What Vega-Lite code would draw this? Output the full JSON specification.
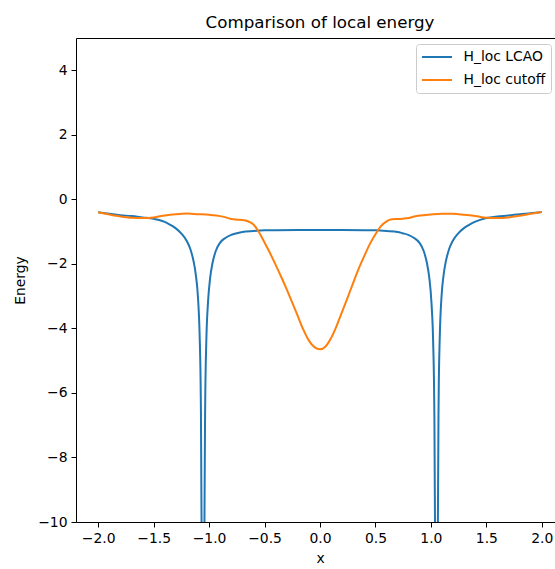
{
  "$schema": "https://vega.github.io/schema/vega-lite/v6.json",
  "autosize": {"type": "none"},
  "padding": {"left": 76, "top": 38, "right": 0, "bottom": 47},
  "width": 488,
  "height": 484,
  "background": "white",
  "title": {
    "text": "Comparison of local energy",
    "font": "DejaVu Sans",
    "fontSize": 16.7,
    "fontWeight": "normal",
    "color": "black",
    "anchor": "middle",
    "offset": 6
  },
  "config": {
    "view": {"stroke": "black", "strokeWidth": 1},
    "axis": {
      "grid": false,
      "domain": false,
      "tickColor": "black",
      "tickSize": 5,
      "tickWidth": 1,
      "labelFont": "DejaVu Sans",
      "labelFontSize": 13.9,
      "labelColor": "black",
      "labelPadding": 4,
      "titleFont": "DejaVu Sans",
      "titleFontSize": 13.9,
      "titleFontWeight": "normal",
      "titleColor": "black"
    }
  },
  "data": {
    "values": [
      {"series": "H_loc LCAO", "x": -2.0, "E": -0.40},
      {"series": "H_loc LCAO", "x": -1.9, "E": -0.45},
      {"series": "H_loc LCAO", "x": -1.8, "E": -0.49},
      {"series": "H_loc LCAO", "x": -1.7, "E": -0.52},
      {"series": "H_loc LCAO", "x": -1.6, "E": -0.56},
      {"series": "H_loc LCAO", "x": -1.5, "E": -0.60},
      {"series": "H_loc LCAO", "x": -1.45, "E": -0.64},
      {"series": "H_loc LCAO", "x": -1.4, "E": -0.70},
      {"series": "H_loc LCAO", "x": -1.35, "E": -0.79},
      {"series": "H_loc LCAO", "x": -1.3, "E": -0.90},
      {"series": "H_loc LCAO", "x": -1.25, "E": -1.06},
      {"series": "H_loc LCAO", "x": -1.2, "E": -1.30},
      {"series": "H_loc LCAO", "x": -1.17, "E": -1.53},
      {"series": "H_loc LCAO", "x": -1.14, "E": -1.92},
      {"series": "H_loc LCAO", "x": -1.12, "E": -2.33},
      {"series": "H_loc LCAO", "x": -1.1, "E": -3.05},
      {"series": "H_loc LCAO", "x": -1.085, "E": -4.25},
      {"series": "H_loc LCAO", "x": -1.075, "E": -6.1},
      {"series": "H_loc LCAO", "x": -1.065, "E": -11.8},
      {"series": "H_loc LCAO", "x": -1.055, "E": -40},
      {"series": "H_loc LCAO", "x": -1.045, "E": -11.9},
      {"series": "H_loc LCAO", "x": -1.035, "E": -6.3},
      {"series": "H_loc LCAO", "x": -1.025, "E": -4.4},
      {"series": "H_loc LCAO", "x": -1.01, "E": -3.2},
      {"series": "H_loc LCAO", "x": -0.99, "E": -2.42},
      {"series": "H_loc LCAO", "x": -0.97, "E": -1.99},
      {"series": "H_loc LCAO", "x": -0.94, "E": -1.6},
      {"series": "H_loc LCAO", "x": -0.9, "E": -1.34},
      {"series": "H_loc LCAO", "x": -0.85, "E": -1.19},
      {"series": "H_loc LCAO", "x": -0.8, "E": -1.10},
      {"series": "H_loc LCAO", "x": -0.75, "E": -1.05},
      {"series": "H_loc LCAO", "x": -0.7, "E": -1.01},
      {"series": "H_loc LCAO", "x": -0.6, "E": -0.98},
      {"series": "H_loc LCAO", "x": -0.5, "E": -0.96},
      {"series": "H_loc LCAO", "x": -0.4, "E": -0.955},
      {"series": "H_loc LCAO", "x": -0.2, "E": -0.95},
      {"series": "H_loc LCAO", "x": 0.0, "E": -0.95},
      {"series": "H_loc LCAO", "x": 0.2, "E": -0.95},
      {"series": "H_loc LCAO", "x": 0.4, "E": -0.955},
      {"series": "H_loc LCAO", "x": 0.5, "E": -0.96},
      {"series": "H_loc LCAO", "x": 0.6, "E": -0.98},
      {"series": "H_loc LCAO", "x": 0.7, "E": -1.01},
      {"series": "H_loc LCAO", "x": 0.745, "E": -1.05},
      {"series": "H_loc LCAO", "x": 0.795, "E": -1.10},
      {"series": "H_loc LCAO", "x": 0.845, "E": -1.19},
      {"series": "H_loc LCAO", "x": 0.895, "E": -1.34},
      {"series": "H_loc LCAO", "x": 0.935, "E": -1.6},
      {"series": "H_loc LCAO", "x": 0.965, "E": -1.99},
      {"series": "H_loc LCAO", "x": 0.985, "E": -2.42},
      {"series": "H_loc LCAO", "x": 1.005, "E": -3.2},
      {"series": "H_loc LCAO", "x": 1.02, "E": -4.4},
      {"series": "H_loc LCAO", "x": 1.03, "E": -6.3},
      {"series": "H_loc LCAO", "x": 1.04, "E": -11.9},
      {"series": "H_loc LCAO", "x": 1.05, "E": -40},
      {"series": "H_loc LCAO", "x": 1.06, "E": -11.8},
      {"series": "H_loc LCAO", "x": 1.07, "E": -6.1},
      {"series": "H_loc LCAO", "x": 1.08, "E": -4.25},
      {"series": "H_loc LCAO", "x": 1.095, "E": -3.05},
      {"series": "H_loc LCAO", "x": 1.115, "E": -2.33},
      {"series": "H_loc LCAO", "x": 1.135, "E": -1.92},
      {"series": "H_loc LCAO", "x": 1.165, "E": -1.53},
      {"series": "H_loc LCAO", "x": 1.195, "E": -1.30},
      {"series": "H_loc LCAO", "x": 1.245, "E": -1.06},
      {"series": "H_loc LCAO", "x": 1.295, "E": -0.90},
      {"series": "H_loc LCAO", "x": 1.345, "E": -0.79},
      {"series": "H_loc LCAO", "x": 1.395, "E": -0.70},
      {"series": "H_loc LCAO", "x": 1.45, "E": -0.63},
      {"series": "H_loc LCAO", "x": 1.5, "E": -0.58},
      {"series": "H_loc LCAO", "x": 1.6, "E": -0.53},
      {"series": "H_loc LCAO", "x": 1.7, "E": -0.50},
      {"series": "H_loc LCAO", "x": 1.8, "E": -0.46},
      {"series": "H_loc LCAO", "x": 1.9, "E": -0.43},
      {"series": "H_loc LCAO", "x": 2.0, "E": -0.39},

      {"series": "H_loc cutoff", "x": -2.0, "E": -0.40},
      {"series": "H_loc cutoff", "x": -1.9, "E": -0.47},
      {"series": "H_loc cutoff", "x": -1.8, "E": -0.53},
      {"series": "H_loc cutoff", "x": -1.7, "E": -0.57},
      {"series": "H_loc cutoff", "x": -1.6, "E": -0.58},
      {"series": "H_loc cutoff", "x": -1.5, "E": -0.56},
      {"series": "H_loc cutoff", "x": -1.4, "E": -0.50},
      {"series": "H_loc cutoff", "x": -1.3, "E": -0.46},
      {"series": "H_loc cutoff", "x": -1.2, "E": -0.44},
      {"series": "H_loc cutoff", "x": -1.1, "E": -0.46},
      {"series": "H_loc cutoff", "x": -1.0, "E": -0.48},
      {"series": "H_loc cutoff", "x": -0.9, "E": -0.52},
      {"series": "H_loc cutoff", "x": -0.85, "E": -0.56},
      {"series": "H_loc cutoff", "x": -0.8, "E": -0.61},
      {"series": "H_loc cutoff", "x": -0.75, "E": -0.63},
      {"series": "H_loc cutoff", "x": -0.7, "E": -0.64},
      {"series": "H_loc cutoff", "x": -0.65, "E": -0.68},
      {"series": "H_loc cutoff", "x": -0.6, "E": -0.78},
      {"series": "H_loc cutoff", "x": -0.55, "E": -1.02},
      {"series": "H_loc cutoff", "x": -0.5, "E": -1.34},
      {"series": "H_loc cutoff", "x": -0.45, "E": -1.67},
      {"series": "H_loc cutoff", "x": -0.4, "E": -2.03},
      {"series": "H_loc cutoff", "x": -0.35, "E": -2.40},
      {"series": "H_loc cutoff", "x": -0.3, "E": -2.79},
      {"series": "H_loc cutoff", "x": -0.25, "E": -3.20},
      {"series": "H_loc cutoff", "x": -0.2, "E": -3.62},
      {"series": "H_loc cutoff", "x": -0.15, "E": -4.04},
      {"series": "H_loc cutoff", "x": -0.1, "E": -4.38},
      {"series": "H_loc cutoff", "x": -0.05, "E": -4.58},
      {"series": "H_loc cutoff", "x": 0.0, "E": -4.65},
      {"series": "H_loc cutoff", "x": 0.05, "E": -4.56},
      {"series": "H_loc cutoff", "x": 0.1, "E": -4.30},
      {"series": "H_loc cutoff", "x": 0.15, "E": -3.92},
      {"series": "H_loc cutoff", "x": 0.2, "E": -3.48},
      {"series": "H_loc cutoff", "x": 0.25, "E": -3.04},
      {"series": "H_loc cutoff", "x": 0.3, "E": -2.58},
      {"series": "H_loc cutoff", "x": 0.35, "E": -2.14},
      {"series": "H_loc cutoff", "x": 0.4, "E": -1.75},
      {"series": "H_loc cutoff", "x": 0.45, "E": -1.38},
      {"series": "H_loc cutoff", "x": 0.5, "E": -1.08},
      {"series": "H_loc cutoff", "x": 0.55, "E": -0.83},
      {"series": "H_loc cutoff", "x": 0.6, "E": -0.68},
      {"series": "H_loc cutoff", "x": 0.65, "E": -0.62},
      {"series": "H_loc cutoff", "x": 0.7, "E": -0.61},
      {"series": "H_loc cutoff", "x": 0.75, "E": -0.60},
      {"series": "H_loc cutoff", "x": 0.8, "E": -0.58},
      {"series": "H_loc cutoff", "x": 0.85, "E": -0.53},
      {"series": "H_loc cutoff", "x": 0.9, "E": -0.50},
      {"series": "H_loc cutoff", "x": 1.0, "E": -0.47},
      {"series": "H_loc cutoff", "x": 1.1, "E": -0.45},
      {"series": "H_loc cutoff", "x": 1.2, "E": -0.45},
      {"series": "H_loc cutoff", "x": 1.3, "E": -0.48},
      {"series": "H_loc cutoff", "x": 1.4, "E": -0.52},
      {"series": "H_loc cutoff", "x": 1.5, "E": -0.57},
      {"series": "H_loc cutoff", "x": 1.6, "E": -0.58},
      {"series": "H_loc cutoff", "x": 1.7, "E": -0.56},
      {"series": "H_loc cutoff", "x": 1.8, "E": -0.51},
      {"series": "H_loc cutoff", "x": 1.9, "E": -0.45},
      {"series": "H_loc cutoff", "x": 2.0, "E": -0.39}
    ]
  },
  "mark": {"type": "line", "strokeWidth": 2, "clip": true, "interpolate": "monotone"},
  "encoding": {
    "x": {
      "field": "x",
      "type": "quantitative",
      "title": "x",
      "scale": {"domain": [-2.2, 2.2], "nice": false, "zero": false},
      "axis": {"values": [-2, -1.5, -1, -0.5, 0, 0.5, 1, 1.5, 2], "format": ".1f", "titlePadding": 7}
    },
    "y": {
      "field": "E",
      "type": "quantitative",
      "title": "Energy",
      "scale": {"domain": [-10, 5], "nice": false, "zero": false},
      "axis": {"values": [-10, -8, -6, -4, -2, 0, 2, 4], "format": "d", "titlePadding": 10}
    },
    "color": {
      "field": "series",
      "type": "nominal",
      "scale": {"domain": ["H_loc LCAO", "H_loc cutoff"], "range": ["#1f77b4", "#ff7f0e"]},
      "legend": {
        "title": null,
        "orient": "none",
        "legendX": 340,
        "legendY": 6,
        "symbolType": "stroke",
        "symbolSize": 900,
        "symbolStrokeWidth": 2,
        "clipHeight": 16,
        "rowPadding": 7,
        "labelOffset": 10.5,
        "labelFont": "DejaVu Sans",
        "labelFontSize": 13.9,
        "labelColor": "black",
        "padding": 5,
        "strokeColor": "#cccccc",
        "fillColor": "white",
        "cornerRadius": 3
      }
    }
  }
}
